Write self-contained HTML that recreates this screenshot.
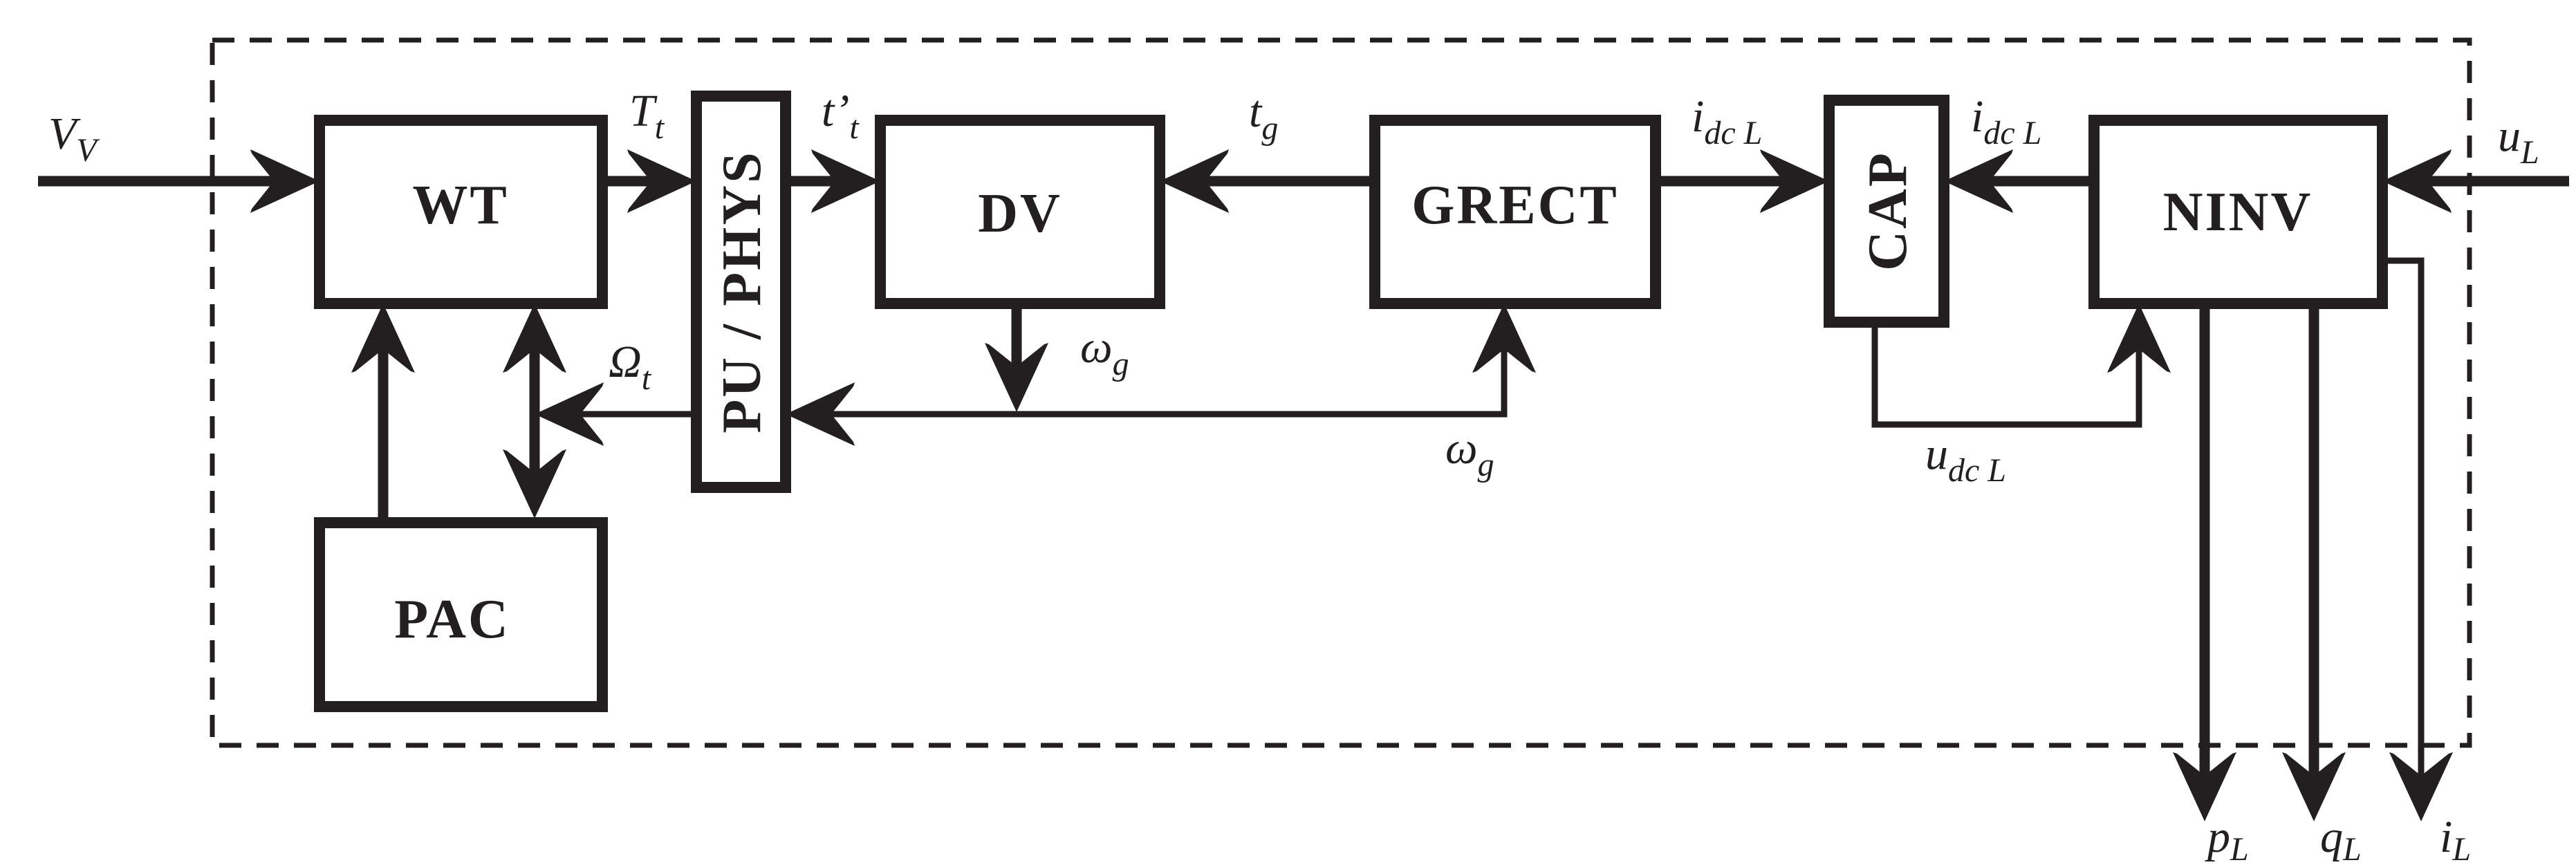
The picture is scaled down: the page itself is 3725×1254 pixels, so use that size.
<!DOCTYPE html>
<html><head><meta charset="utf-8"><style>
html,body{margin:0;padding:0;background:#fff;}
svg{display:block;}
.b{font-family:"Liberation Serif",serif;font-weight:bold;font-size:80px;fill:#231f20;letter-spacing:3px;}
.i{font-family:"Liberation Serif",serif;font-style:italic;font-size:66px;fill:#231f20;}
.s{font-size:48px;}
</style></head><body>
<svg width="3725" height="1254" viewBox="0 0 3725 1254" xmlns="http://www.w3.org/2000/svg">
<defs><path id="ah" d="M0 0 L-100 -46 L-98 -40 L-66 0 L-98 40 L-100 46 Z" fill="#231f20"/></defs>
<g fill="none" stroke="#231f20">
<rect x="307" y="58" width="3264" height="1020" stroke-width="7" stroke-dasharray="32 22"/>
<g stroke-width="16">
<rect x="462" y="174" width="409" height="265"/>
<rect x="462" y="756" width="409" height="266"/>
<rect x="1007" y="139" width="129" height="566"/>
<rect x="1273" y="174" width="404" height="265"/>
<rect x="1988" y="174" width="406" height="265"/>
<rect x="2645" y="145" width="166" height="321"/>
<rect x="3028" y="174" width="417" height="265"/>
</g>
<g stroke-width="15">
<line x1="55" y1="262" x2="420" y2="262"/>
<line x1="871" y1="262" x2="965" y2="262"/>
<line x1="1136" y1="262" x2="1230" y2="262"/>
<line x1="1720" y1="262" x2="1988" y2="262"/>
<line x1="2394" y1="262" x2="2600" y2="262"/>
<line x1="2855" y1="262" x2="3028" y2="262"/>
<line x1="3490" y1="262" x2="3715" y2="262"/>
<line x1="554" y1="480" x2="554" y2="756"/>
<line x1="773" y1="480" x2="773" y2="710"/>
<line x1="1470" y1="439" x2="1470" y2="555"/>
<line x1="3188" y1="439" x2="3188" y2="1150"/>
<line x1="3346" y1="439" x2="3346" y2="1150"/>
</g>
<g stroke-width="9">
<line x1="1007" y1="599" x2="800" y2="599"/>
<polyline points="1170,599 2175,599 2175,480"/>
<polyline points="2711,466 2711,614 3093,614 3093,480"/>
<polyline points="3445,377 3501,377 3501,1150"/>
</g>
</g>
<use href="#ah" transform="translate(462,262)"/>
<use href="#ah" transform="translate(1007,262)"/>
<use href="#ah" transform="translate(1273,262)"/>
<use href="#ah" transform="translate(1677,262) rotate(180)"/>
<use href="#ah" transform="translate(2645,262)"/>
<use href="#ah" transform="translate(2811,262) rotate(180)"/>
<use href="#ah" transform="translate(3445,262) rotate(180)"/>
<use href="#ah" transform="translate(554,439) rotate(-90)"/>
<use href="#ah" transform="translate(773,439) rotate(-90)"/>
<use href="#ah" transform="translate(773,750) rotate(90)"/>
<use href="#ah" transform="translate(773,599) rotate(180)"/>
<use href="#ah" transform="translate(1136,599) rotate(180)"/>
<use href="#ah" transform="translate(1470,596) rotate(90)"/>
<use href="#ah" transform="translate(2175,439) rotate(-90)"/>
<use href="#ah" transform="translate(3093,439) rotate(-90)"/>
<use href="#ah" transform="translate(3188,1188) rotate(90)"/>
<use href="#ah" transform="translate(3346,1188) rotate(90)"/>
<use href="#ah" transform="translate(3501,1188) rotate(90)"/>
<text class="b" x="666" y="323" text-anchor="middle">WT</text>
<text class="b" x="654" y="922" text-anchor="middle">PAC</text>
<text class="b" x="1475" y="335" text-anchor="middle">DV</text>
<text class="b" x="2191" y="323" text-anchor="middle">GRECT</text>
<text class="b" x="3236" y="333" text-anchor="middle">NINV</text>
<text class="b" transform="translate(1099,422) rotate(-90)" text-anchor="middle">PU / PHYS</text>
<text class="b" transform="translate(2756,305) rotate(-90)" text-anchor="middle">CAP</text>
<text class="i" x="70" y="215">V<tspan class="s" dy="18">V</tspan></text>
<text class="i" x="910" y="182">T<tspan class="s" dy="18">t</tspan></text>
<text class="i" x="1188" y="182">t’<tspan class="s" dy="18">t</tspan></text>
<text class="i" x="1806" y="183">t<tspan class="s" dy="18">g</tspan></text>
<text class="i" x="880" y="545">Ω<tspan class="s" dy="18">t</tspan></text>
<text class="i" x="1562" y="524">ω<tspan class="s" dy="18">g</tspan></text>
<text class="i" x="2090" y="670">ω<tspan class="s" dy="18">g</tspan></text>
<text class="i" x="2446" y="190">i<tspan class="s" dy="18">dc L</tspan></text>
<text class="i" x="2850" y="190">i<tspan class="s" dy="18">dc L</tspan></text>
<text class="i" x="3612" y="218">u<tspan class="s" dy="18">L</tspan></text>
<text class="i" x="2784" y="678">u<tspan class="s" dy="18">dc L</tspan></text>
<text class="i" x="3192" y="1232">p<tspan class="s" dy="12">L</tspan></text>
<text class="i" x="3355" y="1232">q<tspan class="s" dy="12">L</tspan></text>
<text class="i" x="3528" y="1232">i<tspan class="s" dy="12">L</tspan></text>
</svg>
</body></html>
